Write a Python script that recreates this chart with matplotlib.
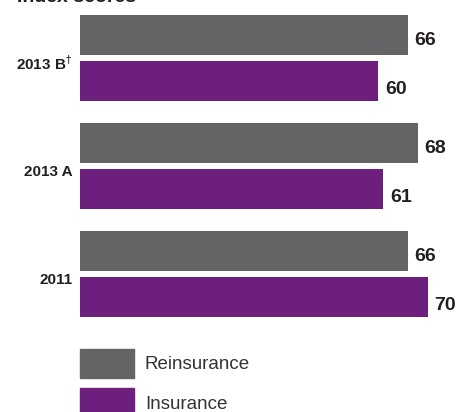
import matplotlib
matplotlib.use('Agg')
import matplotlib.pyplot as plt
from matplotlib.patches import Patch

categories = ['2013 B$^{\\dagger}$', '2013 A', '2011']
reinsurance = [66, 68, 66]
insurance = [60, 61, 70]
series_names = ['Reinsurance', 'Insurance']
title = 'Index scores'

gray = '#646466'
purple = '#6c1f7c'

W, H = 458, 412
fig = plt.figure(figsize=(W / 100, H / 100), dpi=100)
ax = fig.add_axes([80 / W, 0, 1 - 80 / W, 1])

# y: one unit per group (108 px), group 0 centre at 58 px from top
ax.set_ylim((H - 58) / 108, -58 / 108)
ax.set_xlim(0, 76)

ys = list(range(len(categories)))
off = 23 / 108
h = 40 / 108
ax.barh([y - off for y in ys], reinsurance, height=h, color=gray)
ax.barh([y + off for y in ys], insurance, height=h, color=purple)

lab = dict(family='Liberation Sans', fontweight='bold', fontsize=14, color='#231f20',
           va='center', ha='left')
for y, v in zip(ys, reinsurance):
    ax.text(v + 1.3, y - off + 0.055, str(v), **lab)
for y, v in zip(ys, insurance):
    ax.text(v + 1.3, y + off + 0.075, str(v), **lab)

for y, c in zip(ys, categories):
    ax.text(-1.5, y + 0.055, c, family='Liberation Sans', fontweight='bold',
            fontsize=11, color='#231f20', ha='right', va='center')

ax.axis('off')

fig.text(17 / W, 1 - 2 / H, title, family='Liberation Sans', fontweight='bold',
         fontsize=14, color='#231f20', ha='left', va='baseline')

handles = [Patch(color=gray), Patch(color=purple)]
fs = 13.5
px = fs * 100 / 72
leg = fig.legend(handles, series_names, loc='upper left',
                 bbox_to_anchor=(80 / W, 1 - 349 / H), frameon=False,
                 borderpad=0, borderaxespad=0, handlelength=54 / px,
                 handleheight=2.0, labelspacing=0.55,
                 handletextpad=11 / px,
                 prop=dict(family='Liberation Sans', size=fs))
for t in leg.get_texts():
    t.set_color('#333333')

fig.savefig('out.png', dpi=100)
